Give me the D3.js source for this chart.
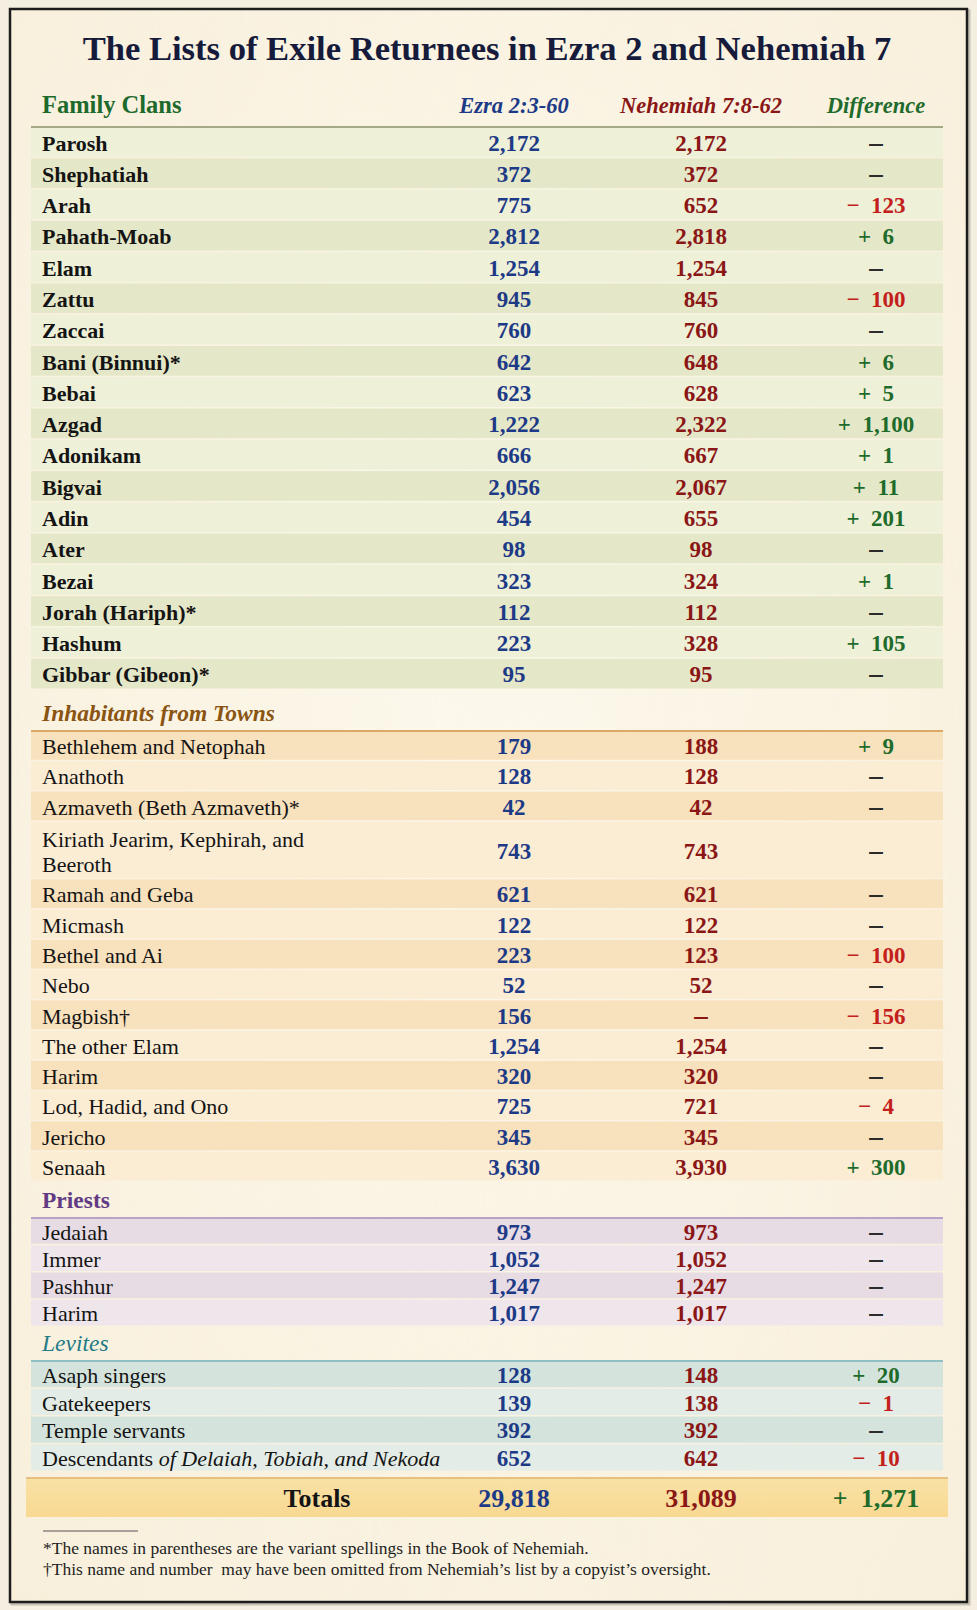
<!DOCTYPE html>
<html>
<head>
<meta charset="utf-8">
<script src="https://cdn.jsdelivr.net/npm/d3@7"></script>
<style>
  body { margin: 0; background: #f4eee0; }
  svg { display: block; }
</style>
</head>
<body>
<svg id="chart"></svg>
<script>
// ---- data ----
const chartTitle = "The Lists of Exile Returnees in Ezra 2 and Nehemiah 7";
const columnHeaders = ["Family Clans", "Ezra 2:3-60", "Nehemiah 7:8-62", "Difference"];

const familyNames = ["Parosh", "Shephatiah", "Arah", "Pahath-Moab", "Elam", "Zattu", "Zaccai",
  "Bani (Binnui)*", "Bebai", "Azgad", "Adonikam", "Bigvai", "Adin", "Ater", "Bezai",
  "Jorah (Hariph)*", "Hashum", "Gibbar (Gibeon)*"];
const familyEzra = [2172, 372, 775, 2812, 1254, 945, 760, 642, 623, 1222, 666, 2056, 454, 98, 323, 112, 223, 95];
const familyNeh = [2172, 372, 652, 2818, 1254, 845, 760, 648, 628, 2322, 667, 2067, 655, 98, 324, 112, 328, 95];
const familyDiff = [0, 0, -123, 6, 0, -100, 0, 6, 5, 1100, 1, 11, 201, 0, 1, 0, 105, 0];

const townNames = ["Bethlehem and Netophah", "Anathoth", "Azmaveth (Beth Azmaveth)*",
  "Kiriath Jearim, Kephirah, and\nBeeroth", "Ramah and Geba", "Micmash", "Bethel and Ai", "Nebo",
  "Magbish\u2020", "The other Elam", "Harim", "Lod, Hadid, and Ono", "Jericho", "Senaah"];
const townEzra = [179, 128, 42, 743, 621, 122, 223, 52, 156, 1254, 320, 725, 345, 3630];
const townNeh = [188, 128, 42, 743, 621, 122, 123, 52, null, 1254, 320, 721, 345, 3930];
const townDiff = [9, 0, 0, 0, 0, 0, -100, 0, -156, 0, 0, -4, 0, 300];

const priestNames = ["Jedaiah", "Immer", "Pashhur", "Harim"];
const priestEzra = [973, 1052, 1247, 1017];
const priestNeh = [973, 1052, 1247, 1017];
const priestDiff = [0, 0, 0, 0];

const leviteNames = ["Asaph singers", "Gatekeepers", "Temple servants", "Descendants |of Delaiah, Tobiah, and Nekoda"];
const leviteEzra = [128, 139, 392, 652];
const leviteNeh = [148, 138, 392, 642];
const leviteDiff = [20, -1, 0, -10];

const totalsLabel = "Totals";
const totalEzra = 29818;
const totalNeh = 31089;
const totalDiff = 1271;

const footnotes = [
  "*The names in parentheses are the variant spellings in the Book of Nehemiah.",
  "\u2020This name and number\u00a0 may have been omitted from Nehemiah\u2019s list by a copyist\u2019s oversight."
];

// ---- layout ----
const W = 977, H = 1610;
const FONT = "'Liberation Serif', 'DejaVu Serif', serif";
const EZRA_COLOR = "#1d3a86", NEH_COLOR = "#8a1616";
const POS_COLOR = "#1f6b2b", NEG_COLOR = "#c3201c", ZERO_COLOR = "#2b2b2b";

const svg = d3.select("#chart").attr("width", W).attr("height", H);

const colX = d3.scaleOrdinal()
  .domain(["label", "ezra", "neh", "diff"])
  .range([42, 514, 701, 876]);

const bandLeft = 31, bandRight = 943;
const fmt = d3.format(",");

// paper texture
const defs = svg.append("defs");
const paper = defs.append("filter").attr("id", "paper").attr("x", 0).attr("y", 0).attr("width", "100%").attr("height", "100%");
paper.append("feTurbulence").attr("type", "fractalNoise").attr("baseFrequency", "0.012 0.0025").attr("numOctaves", 3).attr("seed", 4);
paper.append("feColorMatrix").attr("type", "matrix")
  .attr("values", "0 0 0 0 0.93  0 0 0 0 0.86  0 0 0 0 0.70  0 0 0 0.22 0");
paper.append("feComposite").attr("in2", "SourceGraphic").attr("operator", "in");

const glow = defs.append("radialGradient").attr("id", "glow").attr("cx", "50%").attr("cy", "45%").attr("r", "75%");
glow.append("stop").attr("offset", "0%").attr("stop-color", "#fdf9ee");
glow.append("stop").attr("offset", "100%").attr("stop-color", "#f8efdb");

const totalGrad = defs.append("linearGradient").attr("id", "totalGrad").attr("x1", 0).attr("x2", 0).attr("y1", 0).attr("y2", 1);
totalGrad.append("stop").attr("offset", "0%").attr("stop-color", "#f9e1a6");
totalGrad.append("stop").attr("offset", "100%").attr("stop-color", "#f8d991");

svg.append("rect").attr("width", W).attr("height", H).attr("fill", "#f5efe2");
// shadow + frame
svg.append("rect").attr("x", 12).attr("y", 11).attr("width", 957).attr("height", 1593)
  .attr("fill", "none").attr("stroke", "#9a9488").attr("stroke-width", 3).attr("opacity", 0.5);
svg.append("rect").attr("x", 10).attr("y", 9).attr("width", 957).attr("height", 1593)
  .attr("fill", "url(#glow)");
svg.append("rect").attr("x", 10).attr("y", 9).attr("width", 957).attr("height", 1593)
  .attr("fill", "#fff").attr("filter", "url(#paper)");
svg.append("rect").attr("x", 10).attr("y", 9).attr("width", 957).attr("height", 1593)
  .attr("fill", "none").attr("stroke", "#1d1d1d").attr("stroke-width", 2.5);

// fit a text element to a target width by its font size
function fitWidth(sel, target) {
  const node = sel.node();
  const size = parseFloat(sel.attr("font-size"));
  const w = node.getComputedTextLength();
  sel.attr("font-size", (size * target / w).toFixed(2));
}

// title
const title = svg.append("text")
  .attr("x", 487).attr("y", 60)
  .attr("text-anchor", "middle")
  .attr("font-family", FONT).attr("font-weight", "bold").attr("font-size", 30)
  .attr("fill", "#161b3b")
  .text(chartTitle);
fitWidth(title, 809);

// column headers
const headerY = 113;
svg.append("text").attr("x", colX("label")).attr("y", headerY)
  .attr("font-family", FONT).attr("font-weight", "bold").attr("font-size", 24.5)
  .attr("fill", "#1c6a2c").text(columnHeaders[0]);
[["ezra", EZRA_COLOR, 1], ["neh", NEH_COLOR, 2], ["diff", POS_COLOR, 3]].forEach(([k, c, i]) => {
  svg.append("text").attr("x", colX(k)).attr("y", headerY)
    .attr("text-anchor", "middle")
    .attr("font-family", FONT).attr("font-style", "italic").attr("font-weight", "bold")
    .attr("font-size", 22.5)
    .attr("fill", c).text(columnHeaders[i]);
});

function diffText(d) {
  return (d > 0 ? "+" : "\u2212") + "\u2002" + fmt(Math.abs(d));
}
function diffColor(d) {
  return d === 0 ? ZERO_COLOR : (d > 0 ? POS_COLOR : NEG_COLOR);
}

const sections = [
  { name: null, names: familyNames, ezra: familyEzra, neh: familyNeh, diff: familyDiff,
    top: 127, bottom: 690, colors: ["#eef0d8", "#e5e8c8"], rule: "#a6a986", bold: true },
  { name: "Inhabitants from Towns", style: "italic", weight: "bold", titleColor: "#8a5512",
    names: townNames, ezra: townEzra, neh: townNeh, diff: townDiff,
    top: 731, bottom: 1182, colors: ["#f8e1bd", "#fbecd4"], rule: "#dba865", bold: false },
  { name: "Priests", style: "normal", weight: "bold", titleColor: "#633b84",
    names: priestNames, ezra: priestEzra, neh: priestNeh, diff: priestDiff,
    top: 1218, bottom: 1327, colors: ["#e7dbe4", "#efe6eb"], rule: "#b9a2c8", bold: false },
  { name: "Levites", style: "italic", weight: "normal", titleColor: "#237b86",
    names: leviteNames, ezra: leviteEzra, neh: leviteNeh, diff: leviteDiff,
    top: 1361, bottom: 1472, colors: ["#d4e4dd", "#e3ece6"], rule: "#8fc0c4", bold: false }
];

// a short heavy dash for "no value / no difference"
function dash(g, x, color) {
  g.append("text").attr("x", x).attr("y", 8)
    .attr("text-anchor", "middle").attr("font-family", FONT).attr("font-weight", "bold")
    .attr("font-size", 27).attr("fill", color).text("\u2013");
}

sections.forEach(sec => {
  // row units: wrapped labels take almost two rows
  const units = sec.names.map(n => n.includes("\n") ? 1.9 : 1);
  const starts = d3.cumsum([0].concat(units)).slice(0, units.length);
  const y = d3.scaleLinear().domain([0, d3.sum(units)]).range([sec.top, sec.bottom]);

  const rows = sec.names.map((n, i) => ({
    name: n, ezra: sec.ezra[i], neh: sec.neh[i], diff: sec.diff[i],
    y0: y(starts[i]), y1: y(starts[i] + units[i]), i
  }));

  if (sec.name) {
    svg.append("text").attr("x", colX("label")).attr("y", sec.top - 10)
      .attr("font-family", FONT).attr("font-style", sec.style).attr("font-weight", sec.weight)
      .attr("font-size", 23.5).attr("fill", sec.titleColor).text(sec.name);
  }

  const g = svg.append("g");
  g.selectAll("rect.band").data(rows).enter().append("rect")
    .attr("class", "band")
    .attr("x", bandLeft).attr("width", bandRight - bandLeft)
    .attr("y", d => d.y0).attr("height", d => d.y1 - d.y0 - 1.5)
    .attr("fill", d => sec.colors[d.i % 2]);

  svg.append("line").attr("x1", bandLeft).attr("x2", bandRight)
    .attr("y1", sec.top).attr("y2", sec.top)
    .attr("stroke", sec.rule).attr("stroke-width", 2);

  const rowG = g.selectAll("g.row").data(rows).enter().append("g")
    .attr("class", "row")
    .attr("transform", d => `translate(0,${(d.y0 + d.y1) / 2})`);

  rowG.each(function (d) {
    const r = d3.select(this);
    const t = r.append("text")
      .attr("x", colX("label"))
      .attr("font-family", FONT).attr("font-size", 22)
      .attr("font-weight", sec.bold ? "bold" : "normal")
      .attr("fill", "#141414");
    if (d.name.includes("\n")) {
      d.name.split("\n").forEach((ln, k) => {
        t.append("tspan").attr("x", colX("label")).attr("y", -4 + k * 25).text(ln);
      });
    } else if (d.name.includes("|")) {
      const parts = d.name.split("|");
      t.attr("y", 8);
      t.append("tspan").text(parts[0]);
      t.append("tspan").attr("font-style", "italic").text(parts[1]);
    } else {
      t.attr("y", 8).text(d.name);
    }

    r.append("text").attr("x", colX("ezra")).attr("y", 8)
      .attr("text-anchor", "middle").attr("font-family", FONT).attr("font-weight", "bold")
      .attr("font-size", 23).attr("fill", EZRA_COLOR).text(fmt(d.ezra));

    if (d.neh == null) dash(r, colX("neh"), NEH_COLOR);
    else r.append("text").attr("x", colX("neh")).attr("y", 8)
      .attr("text-anchor", "middle").attr("font-family", FONT).attr("font-weight", "bold")
      .attr("font-size", 23).attr("fill", NEH_COLOR).text(fmt(d.neh));

    if (d.diff === 0) dash(r, colX("diff"), ZERO_COLOR);
    else r.append("text").attr("x", colX("diff")).attr("y", 8)
      .attr("text-anchor", "middle").attr("font-family", FONT).attr("font-weight", "bold")
      .attr("font-size", 23).attr("fill", diffColor(d.diff)).text(diffText(d.diff));
  });
});

// totals band
const totTop = 1478, totBottom = 1517, totMid = (totTop + totBottom) / 2;
svg.append("rect").attr("x", 26).attr("width", 922).attr("y", totTop).attr("height", totBottom - totTop)
  .attr("fill", "url(#totalGrad)");
svg.append("line").attr("x1", 26).attr("x2", 948).attr("y1", totTop).attr("y2", totTop)
  .attr("stroke", "#e0b26a").attr("stroke-width", 1.5);
[[317, "#141414", totalsLabel], [colX("ezra"), EZRA_COLOR, fmt(totalEzra)],
 [colX("neh"), NEH_COLOR, fmt(totalNeh)], [colX("diff"), diffColor(totalDiff), diffText(totalDiff)]]
  .forEach(([x, c, s]) => {
    svg.append("text").attr("x", x).attr("y", totMid + 9)
      .attr("text-anchor", "middle").attr("font-family", FONT).attr("font-weight", "bold")
      .attr("font-size", 26).attr("fill", c).text(s);
  });

// footnotes
svg.append("line").attr("x1", 43).attr("x2", 138).attr("y1", 1531).attr("y2", 1531)
  .attr("stroke", "#555").attr("stroke-width", 1.2);
svg.selectAll("text.foot").data(footnotes).enter().append("text")
  .attr("class", "foot")
  .attr("x", 43).attr("y", (d, i) => 1554 + i * 21)
  .attr("font-family", FONT).attr("font-size", 17.5).attr("fill", "#1e1e1e")
  .text(d => d);
</script>
</body>
</html>
